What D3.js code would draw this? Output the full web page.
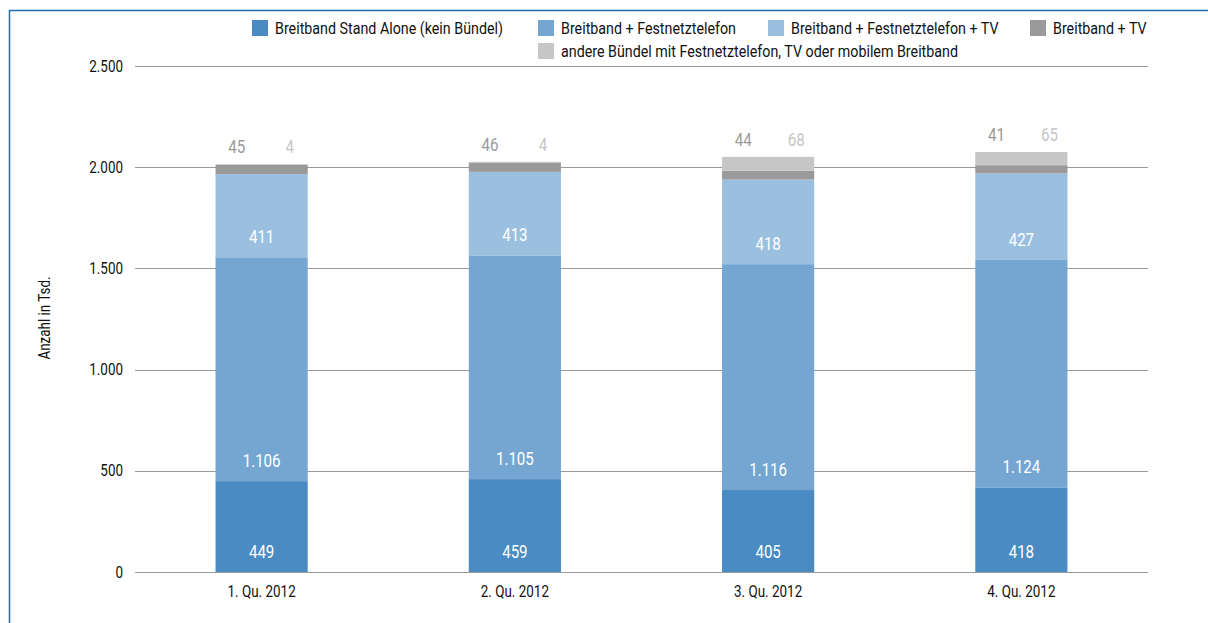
<!DOCTYPE html>
<html>
<head>
<meta charset="utf-8">
<script src="https://cdn.jsdelivr.net/npm/d3@7"></script>
<style>
  body { margin: 0; background: #fff; overflow: hidden; }
  text { font-family: "Roboto", "Liberation Sans", sans-serif; }
</style>
</head>
<body>
<script>
let w = 1208;
let h = 623;

let quarters = ["1. Qu. 2012", "2. Qu. 2012", "3. Qu. 2012", "4. Qu. 2012"];
let seriesNames = [
  "Breitband Stand Alone (kein Bündel)",
  "Breitband + Festnetztelefon",
  "Breitband + Festnetztelefon + TV",
  "Breitband + TV",
  "andere Bündel mit Festnetztelefon, TV oder mobilem Breitband"
];
let standAlone = [449, 459, 405, 418];
let festnetz = [1106, 1105, 1116, 1124];
let festnetzTv = [411, 413, 418, 427];
let tv = [45, 46, 44, 41];
let andere = [4, 4, 68, 65];
let yTicks = [0, 500, 1000, 1500, 2000, 2500];

let colors = ["#4a8bc3", "#75a6d2", "#9bbfdf", "#9a9a9a", "#c6c6c6"];

let rows = quarters.map((q, i) => ({
  q: q, s0: standAlone[i], s1: festnetz[i], s2: festnetzTv[i], s3: tv[i], s4: andere[i]
}));
let keys = ["s0", "s1", "s2", "s3", "s4"];
let stacked = d3.stack().keys(keys)(rows);

let plotLeft = 135, plotRight = 1148, plotTop = 66, plotBottom = 572;
let sx = 0.84; // condensed look

let x = d3.scaleBand().domain(quarters).range([plotLeft, plotRight]).paddingInner(0.636).paddingOuter(0.318);
let y = d3.scaleLinear().domain([0, 2500]).range([plotBottom, plotTop]);

let fmt = d3.formatLocale({ decimal: ",", thousands: ".", grouping: [3], currency: ["", "€"] }).format(",d");

// squeeze text horizontally around its anchor point
function squeeze(sel) {
  sel.attr("transform", function () {
    let tx = +this.getAttribute("x") || 0;
    let ty = +this.getAttribute("y") || 0;
    return "translate(" + tx + "," + ty + ") scale(" + sx + ",1)";
  }).attr("x", 0).attr("y", 0);
}

let svg = d3.select("body").append("svg").attr("width", w).attr("height", h);

// frame
svg.append("rect")
  .attr("x", 9.5).attr("y", 10.5)
  .attr("width", w + 20).attr("height", h + 20)
  .attr("fill", "none").attr("stroke", "#1f6db5").attr("stroke-width", 1.5);

// grid
svg.append("g").selectAll("line")
  .data(yTicks)
  .enter()
  .append("line")
  .attr("x1", plotLeft).attr("x2", plotRight)
  .attr("y1", d => Math.round(y(d)) + 0.5).attr("y2", d => Math.round(y(d)) + 0.5)
  .attr("stroke", "#999").attr("stroke-width", 1.2);

svg.append("g").selectAll("text")
  .data(yTicks)
  .enter()
  .append("text")
  .attr("x", 123)
  .attr("y", d => y(d) + 5.5)
  .attr("text-anchor", "end")
  .attr("font-size", 16)
  .attr("fill", "#111")
  .text(d => fmt(d))
  .call(squeeze);

svg.append("text")
  .attr("transform", "translate(50,318) rotate(-90) scale(" + sx + ",1)")
  .attr("text-anchor", "middle")
  .attr("font-size", 16)
  .attr("fill", "#111")
  .text("Anzahl in Tsd.");

// bars
let layers = svg.append("g").selectAll("g")
  .data(stacked)
  .enter()
  .append("g")
  .attr("fill", (d, i) => colors[i]);

layers.selectAll("rect")
  .data(d => d)
  .enter()
  .append("rect")
  .attr("x", d => x(d.data.q))
  .attr("y", d => y(d[1]))
  .attr("width", x.bandwidth())
  .attr("height", d => y(d[0]) - y(d[1]));

// inner labels for first three series
stacked.slice(0, 3).forEach(layer => {
  svg.append("g").selectAll("text")
    .data(layer)
    .enter()
    .append("text")
    .attr("x", d => x(d.data.q) + x.bandwidth() / 2)
    .attr("y", d => y(d[0]) - 14)
    .attr("text-anchor", "middle")
    .attr("font-size", 18)
    .attr("fill", "#fff")
    .text(d => fmt(d[1] - d[0]))
    .call(squeeze);
});

// top labels
let topLayer = stacked[4];
svg.append("g").selectAll("text")
  .data(topLayer)
  .enter()
  .append("text")
  .attr("x", d => x(d.data.q) + x.bandwidth() / 2 - 25)
  .attr("y", d => y(d[1]) - 11)
  .attr("text-anchor", "middle")
  .attr("font-size", 18)
  .attr("fill", "#9a9a9a")
  .text((d, i) => fmt(tv[i]))
  .call(squeeze);

svg.append("g").selectAll("text")
  .data(topLayer)
  .enter()
  .append("text")
  .attr("x", d => x(d.data.q) + x.bandwidth() / 2 + 28)
  .attr("y", d => y(d[1]) - 11)
  .attr("text-anchor", "middle")
  .attr("font-size", 18)
  .attr("fill", "#c6c6c6")
  .text((d, i) => fmt(andere[i]))
  .call(squeeze);

// x labels
svg.append("g").selectAll("text")
  .data(quarters)
  .enter()
  .append("text")
  .attr("x", d => x(d) + x.bandwidth() / 2)
  .attr("y", 597)
  .attr("text-anchor", "middle")
  .attr("font-size", 16)
  .attr("fill", "#111")
  .text(d => d)
  .call(squeeze);

// legend
let legendPos = [[252, 20], [538, 20], [768, 20], [1030, 20], [538, 43]];
let legend = svg.append("g").selectAll("g")
  .data(seriesNames)
  .enter()
  .append("g")
  .attr("transform", (d, i) => "translate(" + legendPos[i][0] + "," + legendPos[i][1] + ")");

legend.append("rect")
  .attr("width", 16).attr("height", 16)
  .attr("fill", (d, i) => colors[i]);

legend.append("text")
  .attr("x", 23).attr("y", 14)
  .attr("font-size", 17)
  .attr("fill", "#111")
  .text(d => d)
  .call(squeeze);
</script>
</body>
</html>
